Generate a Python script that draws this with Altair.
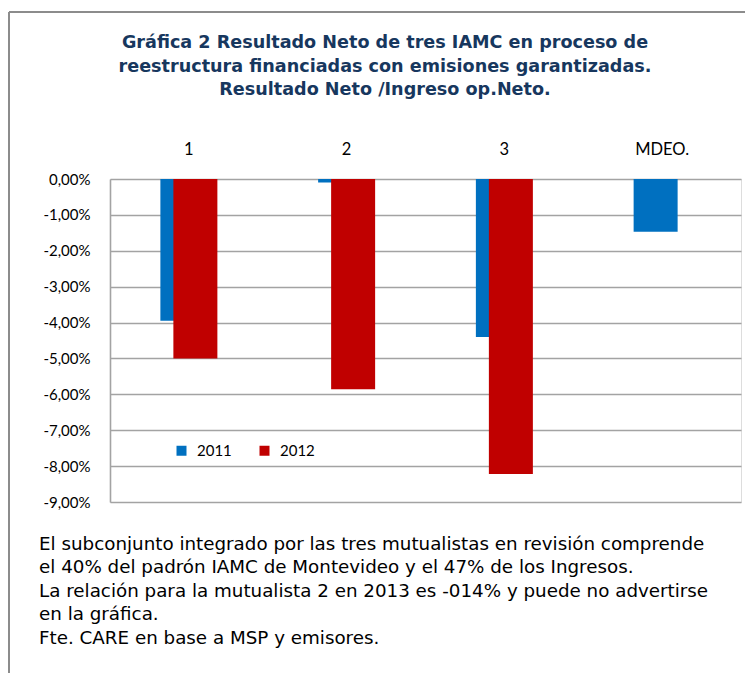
import altair as alt
import pandas as pd

categorias = ["1", "2", "3", "MDEO."]
anios = ["2011", "2012"]
serie_2011 = [-3.95, -0.10, -4.40, -1.47]
serie_2012 = [-5.00, -5.86, -8.22, None]
y_ticks = [0, -1, -2, -3, -4, -5, -6, -7, -8, -9]
colores = ["#0070C0", "#C00000"]

titulo = [
    "Gráfica 2 Resultado Neto de tres IAMC en proceso de",
    "reestructura financiadas con  emisiones garantizadas.",
    "Resultado Neto /Ingreso op.Neto.",
]
nota = [
    "El subconjunto  integrado por las tres mutualistas en revisión comprende",
    "el 40% del padrón  IAMC de Montevideo  y el 47% de los Ingresos.",
    "La relación para la mutualista 2 en 2013 es -014% y puede  no advertirse",
    "en la  gráfica.",
    "Fte. CARE en base a MSP y emisores.",
]

rows = []
for c, a, b in zip(categorias, serie_2011, serie_2012):
    if a is not None:
        rows.append({"cat": c, "anio": "2011", "valor": a})
    if b is not None:
        rows.append({"cat": c, "anio": "2012", "valor": b})
df = pd.DataFrame(rows)

FONT = "Lato"
GRID = "#A3A3A3"

x = alt.X(
    "cat:N", sort=categorias,
    scale=alt.Scale(domain=categorias, paddingInner=0, paddingOuter=0),
    axis=alt.Axis(orient="top", title=None, labelAngle=0, ticks=False, domain=False,
                  labelFont=FONT, labelFontSize=16.5, labelColor="#000000", labelPadding=22),
)
y = alt.Y(
    "valor:Q",
    scale=alt.Scale(domain=[-9, 0], nice=False, zero=True),
    axis=alt.Axis(title=None, values=y_ticks, ticks=False, grid=True, gridColor=GRID,
                  gridWidth=1.6, domain=True, domainColor=GRID, domainWidth=1.6,
                  labelFont=FONT, labelFontSize=15, labelColor="#000000", labelPadding=20,
                  labelExpr="replace(replace(format(datum.value, '.2f'), '.', ','), '\u2212', '-') + '%'"),
)
color = alt.Color(
    "anio:N",
    scale=alt.Scale(domain=anios, range=colores),
    legend=alt.Legend(orient="none", legendX=64, legendY=264, direction="horizontal", title=None,
                      symbolType="square", symbolSize=100, symbolStrokeWidth=0, padding=0,
                      labelFont=FONT, labelFontSize=15, labelColor="#000000", columnPadding=25,
                      labelOffset=8),
)

base = alt.Chart(df).encode(x=x, y=y, color=color)
b2011 = base.transform_filter(alt.datum.anio == "2011").mark_bar(size=44, xOffset=-6.5)
b2012 = base.transform_filter(alt.datum.anio == "2012").mark_bar(size=44, xOffset=6.5)

one = alt.Data(values=[{"k": 0}])
borde_izq = alt.Chart(one).mark_rule(color="#8C8C8C", strokeWidth=2).encode(
    x=alt.value(-101), y=alt.value(-167), y2=alt.value(520))
borde_sup = alt.Chart(one).mark_rule(color="#8C8C8C", strokeWidth=2).encode(
    x=alt.value(-101), x2=alt.value(660), y=alt.value(-167))

titulo_txt = alt.Chart(pd.DataFrame({"t": ["\n".join(titulo)]})).mark_text(
    align="center", baseline="middle", lineBreak="\n", lineHeight=23.5,
    font="DejaVu Sans", fontSize=17.6, fontWeight="bold", color="#17375E",
).encode(x=alt.value(275), y=alt.value(-136), text="t:N")

texto = alt.Chart(pd.DataFrame({"t": ["\n".join(nota)]})).mark_text(
    align="left", baseline="top", lineBreak="\n", lineHeight=23.4,
    font="DejaVu Sans", fontSize=18.3, color="#000000",
).encode(x=alt.value(-71), y=alt.value(357), text="t:N")

chart = alt.layer(b2011, b2012, borde_izq, borde_sup, titulo_txt, texto).properties(
    width=631, height=323,
    autosize=alt.AutoSizeParams(type="none"),
    padding={"left": 102, "top": 171, "right": 4, "bottom": 171},
).configure_view(stroke=None).configure(background="white")

chart.save("out.html", embed_options={"renderer": "svg", "actions": False})
